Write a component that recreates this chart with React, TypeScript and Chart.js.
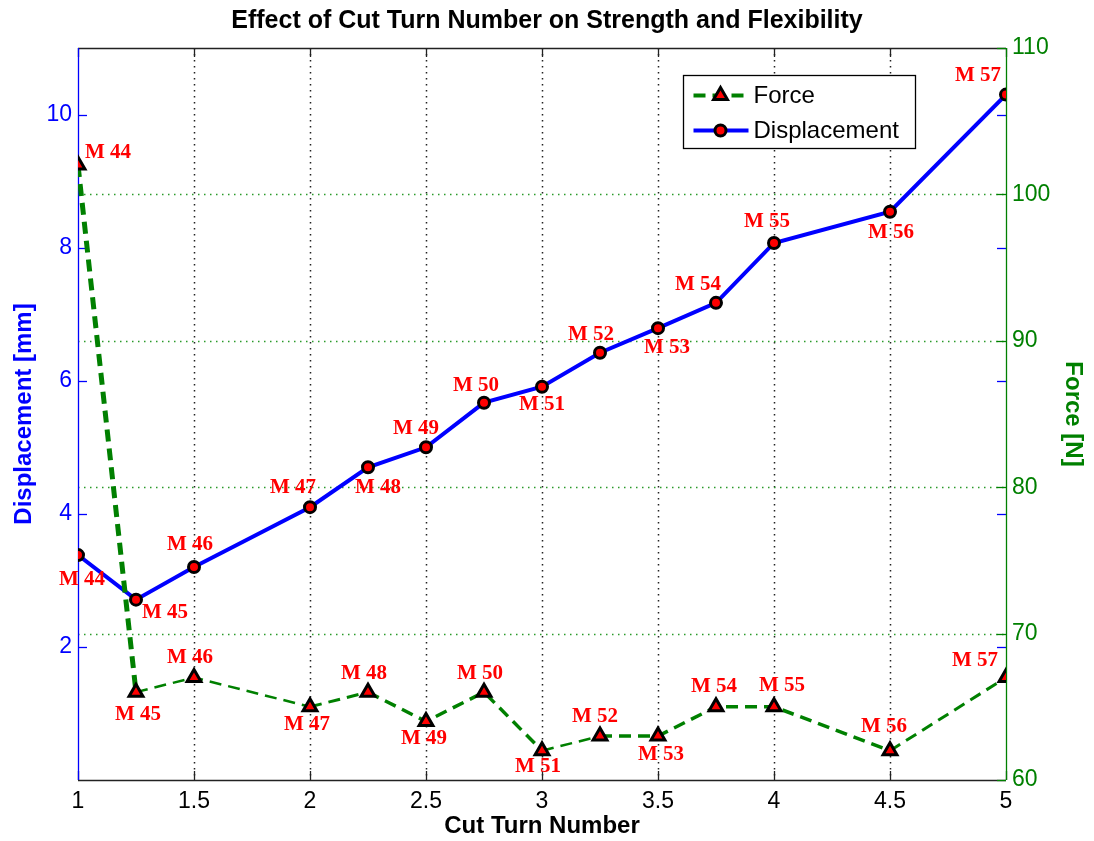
import React, { useEffect, useRef } from "react";
import { Chart, registerables } from "chart.js";

Chart.register(...registerables);

// ---------- data ----------
const cutTurns = [1, 1.25, 1.5, 2, 2.25, 2.5, 2.75, 3, 3.25, 3.5, 3.75, 4, 4.5, 5];
const sampleNames = ["M 44", "M 45", "M 46", "M 47", "M 48", "M 49", "M 50", "M 51", "M 52", "M 53", "M 54", "M 55", "M 56", "M 57"];
const displacement = [3.38, 2.71, 3.2, 4.1, 4.7, 5.0, 5.67, 5.91, 6.42, 6.79, 7.17, 8.07, 8.54, 10.3];
const force = [102, 66, 67, 65, 66, 64, 66, 62, 63, 63, 65, 65, 62, 67];

const xTickValues = [1, 1.5, 2, 2.5, 3, 3.5, 4, 4.5, 5];
const leftTickValues = [2, 4, 6, 8, 10];
const rightTickValues = [60, 70, 80, 90, 100, 110];

const titleText = "Effect of Cut Turn Number on Strength and Flexibility";
const xTitle = "Cut Turn Number";
const leftTitle = "Displacement [mm]";
const rightTitle = "Force [N]";
const forceLabel = "Force";
const dispLabel = "Displacement";

// label placement (pixel offsets of label centre from its marker)
const dispLabelOffsets = [
  [4, 25], [29, 13], [-4, -22], [-17, -20], [10, 20], [-10, -19], [-8, -17],
  [0, 18], [-9, -18], [9, 19], [-18, -18], [-7, -21], [1, 21], [-28, -19],
];
const forceLabelOffsets = [
  [30, -13], [2, 22], [-4, -20], [-3, 18], [-4, -19], [-2, 17], [-4, -19],
  [-4, 16], [-5, -20], [3, 18], [-2, -20], [8, -21], [-6, -24], [-31, -17],
];
// per-segment line widths of the dashed force curve
const forceSegmentWidths = [5, 2.5, 2.5, 3, 3.5, 3.5, 3.5, 2.5, 3.5, 3.5, 3.5, 3.5, 3];

// ---------- styles ----------
const BLUE = "#0000FF";
const GREEN = "#008000";
const RED = "#FF0000";
const SANS = "'Liberation Sans', Arial, sans-serif";
const SERIF = "'Liberation Serif', 'Times New Roman', serif";

function drawMarker(ctx: CanvasRenderingContext2D, style: string, r: number, x: number, y: number) {
  ctx.beginPath();
  if (style === "triangle") {
    let rad = 0;
    ctx.moveTo(x + Math.sin(rad) * r, y - Math.cos(rad) * r);
    rad += (2 * Math.PI) / 3;
    ctx.lineTo(x + Math.sin(rad) * r, y - Math.cos(rad) * r);
    rad += (2 * Math.PI) / 3;
    ctx.lineTo(x + Math.sin(rad) * r, y - Math.cos(rad) * r);
    ctx.closePath();
  } else {
    ctx.arc(x, y, r, 0, Math.PI * 2);
  }
  ctx.fillStyle = RED;
  ctx.strokeStyle = "#000000";
  ctx.lineWidth = 3;
  ctx.fill();
  ctx.stroke();
}

const decorPlugin = {
  id: "decor",
  beforeDatasetsDraw(chart: any) {
    const { ctx, chartArea: a, scales } = chart;
    const sx = scales.x, sl = scales.yL, sr = scales.yR;
    const line = (x1: number, y1: number, x2: number, y2: number) => {
      ctx.beginPath();
      ctx.moveTo(x1, y1);
      ctx.lineTo(x2, y2);
      ctx.stroke();
    };
    ctx.save();
    // vertical dotted grid
    ctx.lineWidth = 1.5;
    ctx.setLineDash([1.5, 4.5]);
    ctx.strokeStyle = "#222222";
    xTickValues.forEach((v) => {
      const px = Math.round(sx.getPixelForValue(v)) + 0.5;
      if (px <= a.left + 1 || px >= a.right - 1) return;
      line(px, a.top, px, a.bottom);
    });
    // horizontal dotted grid (force axis)
    ctx.strokeStyle = "#2a9a2a";
    rightTickValues.forEach((v) => {
      const py = Math.round(sr.getPixelForValue(v)) + 0.5;
      if (py <= a.top + 1 || py >= a.bottom - 1) return;
      line(a.left, py, a.right, py);
    });
    ctx.setLineDash([]);
    // frame
    ctx.lineWidth = 1.3;
    ctx.strokeStyle = "#222222";
    line(a.left, a.top + 0.5, a.right, a.top + 0.5);
    line(a.left, a.bottom + 0.5, a.right, a.bottom + 0.5);
    // x ticks (inward, top & bottom)
    xTickValues.forEach((v) => {
      const px = Math.round(sx.getPixelForValue(v)) + 0.5;
      line(px, a.bottom, px, a.bottom - 9);
      line(px, a.top, px, a.top + 9);
    });
    // left axis + ticks
    ctx.strokeStyle = BLUE;
    line(a.left + 0.5, a.top, a.left + 0.5, a.bottom);
    leftTickValues.forEach((v) => {
      const py = Math.round(sl.getPixelForValue(v)) + 0.5;
      line(a.left, py, a.left + 9, py);
      line(a.right, py, a.right - 9, py);
    });
    // right axis + ticks
    ctx.strokeStyle = GREEN;
    line(a.right + 0.5, a.top, a.right + 0.5, a.bottom);
    rightTickValues.forEach((v) => {
      const py = Math.round(sr.getPixelForValue(v)) + 0.5;
      line(a.right, py, a.right - 9, py);
    });
    ctx.restore();
  },
  afterDatasetsDraw(chart: any) {
    const { ctx, chartArea: a } = chart;
    ctx.save();
    // point labels
    ctx.font = `bold 21px ${SERIF}`;
    ctx.fillStyle = RED;
    ctx.textAlign = "center";
    ctx.textBaseline = "middle";
    const forceMeta = chart.getDatasetMeta(0);
    const dispMeta = chart.getDatasetMeta(1);
    sampleNames.forEach((name, i) => {
      const pf = forceMeta.data[i];
      const pd = dispMeta.data[i];
      ctx.fillText(name, pf.x + forceLabelOffsets[i][0], pf.y + forceLabelOffsets[i][1]);
      ctx.fillText(name, pd.x + dispLabelOffsets[i][0], pd.y + dispLabelOffsets[i][1]);
    });

    // legend
    const bx = a.left + 605.5, by = a.top + 27.5, bw = 232, bh = 73;
    ctx.fillStyle = "#ffffff";
    ctx.fillRect(bx, by, bw, bh);
    ctx.strokeStyle = "#000000";
    ctx.lineWidth = 1.3;
    ctx.strokeRect(bx, by, bw, bh);
    const rows = [
      { label: forceLabel, color: GREEN, dash: [12, 7], style: "triangle", r: 8, y: by + 20 },
      { label: dispLabel, color: BLUE, dash: [] as number[], style: "circle", r: 5.5, y: by + 55 },
    ];
    rows.forEach((row) => {
      ctx.strokeStyle = row.color;
      ctx.lineWidth = 4;
      ctx.setLineDash(row.dash);
      ctx.beginPath();
      ctx.moveTo(bx + 10, row.y);
      ctx.lineTo(bx + 65, row.y);
      ctx.stroke();
      ctx.setLineDash([]);
      drawMarker(ctx, row.style, row.r, bx + 37, row.y);
      ctx.fillStyle = "#000000";
      ctx.font = `24px ${SANS}`;
      ctx.textAlign = "left";
      ctx.textBaseline = "middle";
      ctx.fillText(row.label, bx + 70, row.y + 1);
    });
    ctx.restore();
  },
};

export default function App() {
  const ref = useRef<HTMLCanvasElement | null>(null);

  useEffect(() => {
    if (!ref.current) return;
    const chart = new Chart(ref.current, {
      type: "line",
      data: {
        datasets: [
          {
            label: forceLabel,
            data: cutTurns.map((x, i) => ({ x, y: force[i] })),
            yAxisID: "yR",
            borderColor: GREEN,
            borderWidth: 3,
            borderDash: [12, 7],
            pointStyle: "triangle",
            pointRadius: 8,
            pointBorderWidth: 3,
            pointBackgroundColor: RED,
            pointBorderColor: "#000000",
            tension: 0,
            fill: false,
            segment: {
              borderWidth: (c: any) => forceSegmentWidths[c.p0DataIndex] ?? 3,
            },
          },
          {
            label: dispLabel,
            data: cutTurns.map((x, i) => ({ x, y: displacement[i] })),
            yAxisID: "yL",
            borderColor: BLUE,
            borderWidth: 4,
            pointStyle: "circle",
            pointRadius: 5.5,
            pointBorderWidth: 3,
            pointBackgroundColor: RED,
            pointBorderColor: "#000000",
            tension: 0,
            fill: false,
          },
        ],
      },
      options: {
        responsive: false,
        animation: false,
        layout: { padding: { top: 0, left: 0, right: 0, bottom: 0 } },
        plugins: {
          legend: { display: false },
          tooltip: { enabled: false },
          title: {
            display: true,
            text: titleText,
            color: "#000000",
            font: { family: SANS, size: 25, weight: "bold" },
            padding: { top: 6, bottom: 12 },
          },
        },
        scales: {
          x: {
            type: "linear",
            min: 1,
            max: 5,
            afterBuildTicks: (s: any) => {
              s.ticks = xTickValues.map((value) => ({ value }));
            },
            afterFit: (s: any) => {
              s.height = 61;
            },
            grid: { display: false, drawTicks: false },
            border: { display: false },
            ticks: {
              color: "#000000",
              font: { family: SANS, size: 23 },
              padding: 8,
              maxRotation: 0,
              autoSkip: false,
              callback: (v: any) => String(v),
            },
            title: {
              display: true,
              text: xTitle,
              color: "#000000",
              font: { family: SANS, size: 24, weight: "bold" },
              padding: { top: 0, bottom: 0 },
            },
          },
          yL: {
            type: "linear",
            position: "left",
            min: 0,
            max: 11,
            afterBuildTicks: (s: any) => {
              s.ticks = leftTickValues.map((value) => ({ value }));
            },
            afterFit: (s: any) => {
              s.width = 78;
            },
            grid: { display: false, drawTicks: false },
            border: { display: false },
            ticks: {
              color: BLUE,
              font: { family: SANS, size: 23 },
              padding: 6,
              callback: (v: any) => String(v),
            },
            title: {
              display: true,
              text: leftTitle,
              color: BLUE,
              font: { family: SANS, size: 24, weight: "bold" },
              padding: { top: 10, bottom: 0 },
            },
          },
          yR: {
            type: "linear",
            position: "right",
            min: 60,
            max: 110,
            afterBuildTicks: (s: any) => {
              s.ticks = rightTickValues.map((value) => ({ value }));
            },
            afterFit: (s: any) => {
              s.width = 88;
            },
            grid: { display: false, drawTicks: false },
            border: { display: false },
            ticks: {
              color: GREEN,
              font: { family: SANS, size: 23 },
              padding: 6,
              callback: (v: any) => String(v),
            },
            title: {
              display: true,
              text: rightTitle,
              color: GREEN,
              font: { family: SANS, size: 24, weight: "bold" },
              padding: { top: 7, bottom: 0 },
            },
          },
        },
      },
      plugins: [decorPlugin],
    } as any);

    return () => chart.destroy();
  }, []);

  return (
    <div style={{ position: "absolute", left: 0, top: 0, width: 1094, height: 841, background: "#ffffff" }}>
      <canvas ref={ref} width={1094} height={841} style={{ display: "block" }} />
    </div>
  );
}
